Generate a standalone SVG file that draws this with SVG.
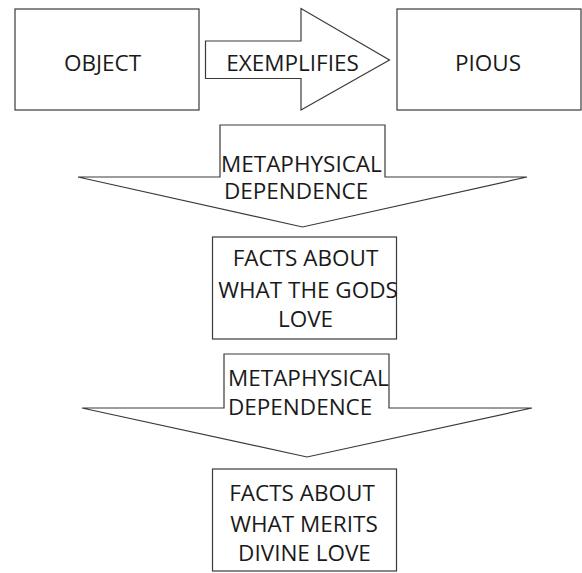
<svg xmlns="http://www.w3.org/2000/svg" width="582" height="573" viewBox="0 0 582 573">
<style>
.shape{fill:#ffffff;stroke:#3a3a3a;stroke-width:1.2}
.t{font-family:"Open Sans","Noto Sans","DejaVu Sans",sans-serif;font-size:22.5px;fill:#1a1a1a}
.c{text-anchor:middle}
</style>
<rect width="582" height="573" fill="#ffffff"/>
<g id="connectors">
<g id="arrow-exemplifies">
<polygon class="shape" points="205.5,41 301,41 301,8.5 389.5,60 301,110 301,78.5 205.5,78.5"/>
<text class="t c" x="292.5" y="70.5">EXEMPLIFIES</text>
</g>
<g id="arrow-dependence-1">
<polygon class="shape" points="220,125 385,125 385,177 527,177 302.5,227 78,177 220,177"/>
<text class="t" x="221" y="171.5">METAPHYSICAL</text>
<text class="t" x="224" y="199">DEPENDENCE</text>
</g>
<g id="arrow-dependence-2">
<polygon class="shape" points="224,354 389,354 389,408 532,408 307,457 82,408 224,408"/>
<text class="t" x="228" y="386">METAPHYSICAL</text>
<text class="t" x="228" y="414.5">DEPENDENCE</text>
</g>
</g>
<g id="node-object">
<rect class="shape" x="15" y="9" width="184" height="101"/>
<text class="t c" x="102.5" y="70.5">OBJECT</text>
</g>
<g id="node-pious">
<rect class="shape" x="397" y="9" width="184" height="101"/>
<text class="t c" x="488" y="70.5">PIOUS</text>
</g>
<g id="node-gods-love">
<rect class="shape" x="212.5" y="237" width="184" height="102"/>
<text class="t c" x="305.5" y="265.5">FACTS ABOUT</text>
<text class="t c" x="308" y="298">WHAT THE GODS</text>
<text class="t c" x="305.5" y="327">LOVE</text>
</g>
<g id="node-divine-love">
<rect class="shape" x="212.5" y="469" width="184" height="102"/>
<text class="t c" x="302" y="501">FACTS ABOUT</text>
<text class="t c" x="304" y="532">WHAT MERITS</text>
<text class="t c" x="304.5" y="561">DIVINE LOVE</text>
</g>
</svg>
